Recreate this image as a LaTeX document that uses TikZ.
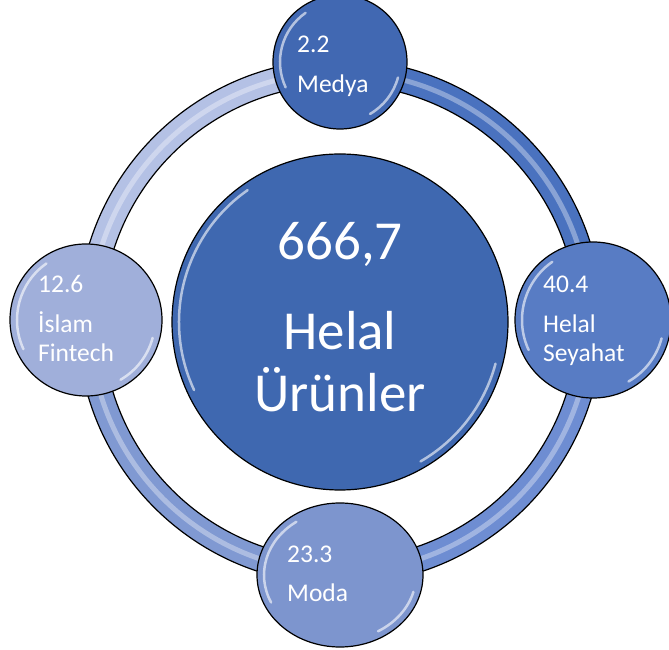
\documentclass[tikz,border=0pt]{standalone}
\usepackage{fontspec}
\setmainfont{Carlito}
\usetikzlibrary{shapes.geometric}
\definecolor{cMain}{RGB}{63,104,176}
\definecolor{cMedya}{RGB}{65,104,178}
\definecolor{cSeyahat}{RGB}{88,124,196}
\definecolor{cModa}{RGB}{125,149,206}
\definecolor{cFintech}{RGB}{160,175,218}
\definecolor{ringA}{RGB}{74,114,191}
\definecolor{ringB}{RGB}{110,141,210}
\definecolor{ringC}{RGB}{128,153,210}
\definecolor{ringD}{RGB}{180,193,229}
\begin{document}
\begin{tikzpicture}[x=1pt,y=1pt,
  bubble/.style={circle, draw=black, line width=1.2pt, inner sep=0pt},
  gloss/.style={white, line width=2.5pt, opacity=0.6, line cap=round},
  smalltxt/.style={anchor=base west, align=left, text=white, inner sep=0pt,
    font=\fontsize{25.5}{29}\selectfont},
  bigtxt/.style={anchor=base, align=center, text=white, inner sep=0pt,
    font=\fontsize{55}{62}\selectfont}]
\useasboundingbox (0,0) rectangle (669,650);
\coordinate (O) at (340,328);
% ring
\foreach \a/\b/\c in {0/90/ringA, -90/0/ringB, -180/-90/ringC, 90/180/ringD}
  \draw[line width=25pt, color=\c] (O) ++(\a:250) arc[start angle=\a, end angle=\b, radius=250];
\draw[white, opacity=0.35, line width=5pt] (O) circle[radius=250];
\draw[line width=1.2pt] (O) circle[radius=262.5] (O) circle[radius=237.5];
% circles
\node[bubble, fill=cMain, minimum size=336pt] (main) at (O) {};
\node[bubble, fill=cMedya, minimum size=134pt] (medya) at (340,588) {};
\node[bubble, fill=cFintech, minimum size=152pt] (fintech) at (86,330) {};
\node[bubble, fill=cSeyahat, minimum size=156pt] (seyahat) at (593,330) {};
\node[ellipse, draw=black, line width=1.2pt, inner sep=0pt, fill=cModa,
  minimum width=166pt, minimum height=144pt] (moda) at (340,75) {};
% gloss
\foreach \n/\r in {main/168, medya/67, fintech/76, seyahat/78} {
  \draw[gloss] (\n.center) ++(125:{\r-7}) arc[start angle=125, end angle=205, radius={\r-7}];
  \draw[gloss] (\n.center) ++(-15:{\r-7}) arc[start angle=-15, end angle=-60, radius={\r-7}];
}
\draw[gloss] (moda.center) ++(125:76 and 65) arc[start angle=125, end angle=205, x radius=76, y radius=65];
\draw[gloss] (moda.center) ++(-15:76 and 65) arc[start angle=-15, end angle=-60, x radius=76, y radius=65];
% texts (anchored at the baseline of the last line)
\node[bigtxt] (tmain) at (340,238) {666,7\\[28pt]Helal\\Ürünler};
\node[smalltxt] (tmedya) at (297,557) {2.2\\[11pt]Medya};
\node[smalltxt] (tfintech) at (38,288) {12.6\\[11pt]İslam\\Fintech};
\node[smalltxt] (tseyahat) at (543,288) {40.4\\[11pt]Helal\\Seyahat};
\node[smalltxt] (tmoda) at (287,48) {23.3\\[10pt]Moda};
\end{tikzpicture}
\end{document}
